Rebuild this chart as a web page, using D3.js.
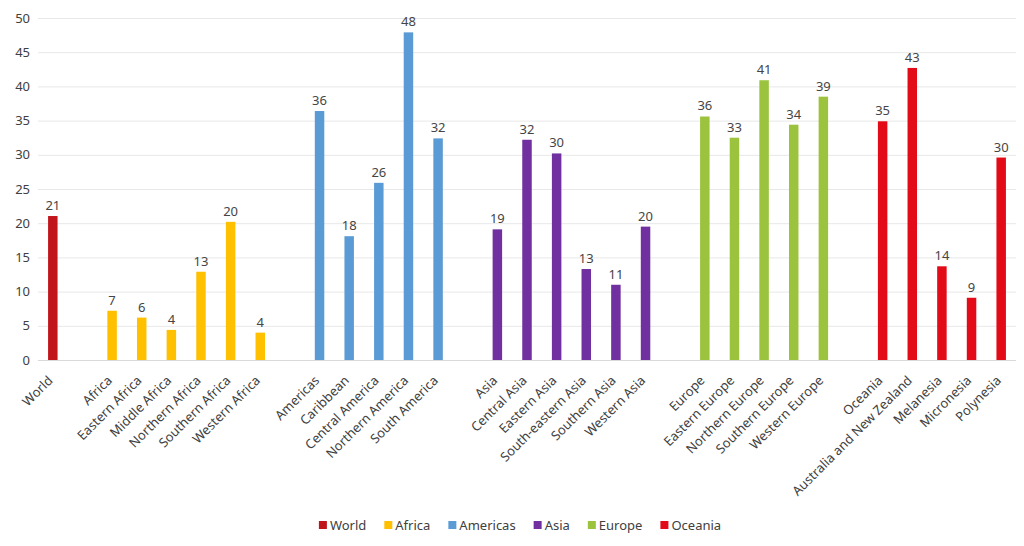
<!DOCTYPE html>
<html>
<head>
<meta charset="utf-8">
<script src="https://cdn.jsdelivr.net/npm/d3@7"></script>
<style>
  body { margin: 0; background: #fff; }
  svg { font-family: "Noto Sans", sans-serif; }
</style>
</head>
<body>
<svg width="1024" height="546"></svg>
<script>
const width = 1024;
const height = 546;

// series names and colours
const seriesNames = ["World", "Africa", "Americas", "Asia", "Europe", "Oceania"];
const seriesColors = ["#C0161B", "#FFC000", "#5B9BD5", "#7030A0", "#9BC33E", "#E30B17"];

// categories and values per series
const worldCats = ["World"];
const worldVals = [21.05];

const africaCats = ["Africa", "Eastern Africa", "Middle Africa", "Northern Africa", "Southern Africa", "Western Africa"];
const africaVals = [7.2, 6.2, 4.4, 12.9, 20.2, 4.0];

const americasCats = ["Americas", "Caribbean", "Central America", "Northern America", "South America"];
const americasVals = [36.4, 18.1, 25.9, 47.9, 32.4];

const asiaCats = ["Asia", "Central Asia", "Eastern Asia", "South-eastern Asia", "Southern Asia", "Western Asia"];
const asiaVals = [19.1, 32.2, 30.2, 13.3, 11.0, 19.5];

const europeCats = ["Europe", "Eastern Europe", "Northern Europe", "Southern Europe", "Western Europe"];
const europeVals = [35.6, 32.5, 40.9, 34.4, 38.5];

const oceaniaCats = ["Oceania", "Australia and New Zealand", "Melanesia", "Micronesia", "Polynesia"];
const oceaniaVals = [34.9, 42.7, 13.7, 9.1, 29.6];

const yTicks = [0, 5, 10, 15, 20, 25, 30, 35, 40, 45, 50];

const groupCats = [worldCats, africaCats, americasCats, asiaCats, europeCats, oceaniaCats];
const groupVals = [worldVals, africaVals, americasVals, asiaVals, europeVals, oceaniaVals];

// flatten into slots, with an empty slot between groups
const slots = [];
const bars = [];
groupCats.forEach((cats, g) => {
  cats.forEach((c, i) => {
    slots.push(c);
    bars.push({ label: c, value: groupVals[g][i], series: g });
  });
  if (g < groupCats.length - 1) slots.push("gap" + g);
});

const margin = { top: 18, right: 8, bottom: 186, left: 38 };

const svg = d3.select("svg");

const x = d3.scaleBand()
  .domain(slots)
  .range([margin.left, width - margin.right])
  .paddingInner(0.68)
  .paddingOuter(0.34);

const y = d3.scaleLinear()
  .domain([0, 50])
  .range([height - margin.bottom, margin.top]);

// gridlines
svg.append("g")
  .selectAll("line")
  .data(yTicks)
  .enter().append("line")
  .attr("x1", margin.left)
  .attr("x2", width - margin.right)
  .attr("y1", d => y(d) + 0.5)
  .attr("y2", d => y(d) + 0.5)
  .attr("stroke", d => d === 0 ? "#d9d9d9" : "#e8e8e8")
  .attr("stroke-width", 1);

// y axis labels
const yAxis = d3.axisLeft(y).tickValues(yTicks).tickSize(0).tickPadding(6);
svg.append("g")
  .attr("transform", "translate(" + (margin.left - 2) + ",0)")
  .call(yAxis)
  .call(g => g.select(".domain").remove())
  .selectAll("text")
  .attr("font-size", 13)
  .attr("font-family", "Noto Sans, sans-serif")
  .attr("fill", "#404040");

// bars
svg.append("g")
  .selectAll("rect")
  .data(bars)
  .enter().append("rect")
  .attr("x", d => x(d.label))
  .attr("width", x.bandwidth())
  .attr("y", d => y(d.value))
  .attr("height", d => y(0) - y(d.value))
  .attr("fill", d => seriesColors[d.series]);

// value labels
svg.append("g")
  .selectAll("text")
  .data(bars)
  .enter().append("text")
  .attr("x", d => x(d.label) + x.bandwidth() / 2)
  .attr("y", d => y(d.value) - 6)
  .attr("text-anchor", "middle")
  .attr("font-size", 13)
  .attr("fill", "#454545")
  .text(d => Math.round(d.value));

// category labels, rotated
svg.append("g")
  .selectAll("text")
  .data(bars)
  .enter().append("text")
  .attr("transform", d => "translate(" + (x(d.label) + x.bandwidth() / 2 - 2.5) + "," + (y(0) + 18) + ") rotate(-45)")
  .attr("text-anchor", "end")
  .attr("dy", "0.35em")
  .attr("font-size", 13)
  .attr("fill", "#404040")
  .text(d => d.label);

// legend
const legend = svg.append("g");
let lx = 0;
seriesNames.forEach((name, i) => {
  const item = legend.append("g").attr("transform", "translate(" + lx + ",0)");
  item.append("rect")
    .attr("x", 0).attr("y", -4)
    .attr("width", 8).attr("height", 8)
    .attr("fill", seriesColors[i]);
  const t = item.append("text")
    .attr("x", 11).attr("y", 0)
    .attr("dy", "0.35em")
    .attr("font-size", 13)
    .attr("fill", "#404040")
    .text(name);
  lx += 11 + t.node().getComputedTextLength() + 18;
});
const legendW = lx - 18;
legend.attr("transform", "translate(" + (width / 2 + 8 - legendW / 2) + ",525)");
</script>
</body>
</html>
